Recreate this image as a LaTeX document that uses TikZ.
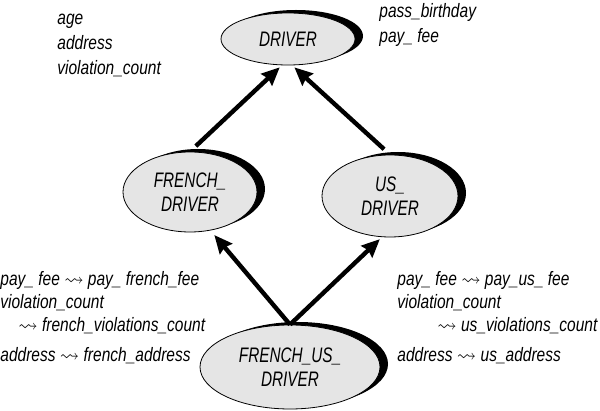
\documentclass[tikz,border=0pt]{standalone}
\usepackage{amssymb}
\usepackage{fontspec}
\setmainfont{Liberation Sans}[FakeStretch=0.8]
\newfontfamily\classfont{Liberation Sans}[FakeStretch=0.73]
\usetikzlibrary{shapes.geometric,arrows.meta}
\def\lt{$\leadsto$}

\begin{document}
\begin{tikzpicture}[x=0.5pt,y=-0.5pt,
  font=\fontsize{9.7}{12}\selectfont\itshape,
  class/.style={ellipse,draw,line width=0.4pt,fill=black!10,inner sep=0pt,align=center,
    font=\classfont\fontsize{10.5}{12}\selectfont\itshape,
    preaction={fill=black,transform canvas={xshift=4pt,yshift=1.5pt}}},
  inh/.style={line width=2.2pt,shorten <=4pt,shorten >=1.5pt,
    -{Stealth[length=9pt,width=8pt,inset=1pt]}},
  attr/.style={anchor=base west,inner sep=0pt}]
\useasboundingbox (0,0) rectangle (600,411);

\node[class,minimum width=67pt,minimum height=26pt] (D) at (288,39) {DRIVER};
\node[class,minimum width=67pt,minimum height=40pt] (FD) at (190,192) {FRENCH\_\\DRIVER};
\node[class,minimum width=68pt,minimum height=41pt] (UD) at (390,196) {US\_\\DRIVER};
\node[class,minimum width=90pt,minimum height=42pt] (FUD) at (290,367) {FRENCH\_US\_\\DRIVER};

\draw[inh] (FD.north) -- (D.-103);
\draw[inh] (UD.north) -- (D.-81);
\draw[inh,shorten <=0pt,shorten >=3pt] (FUD.north) -- (FD.-62);
\draw[inh,shorten <=0pt] (FUD.north) -- (UD.-101);

% features
\foreach \t [count=\i] in {age,address,violation\_count}
  \node[attr] (a\i) at (57,25*\i) {\t};
\foreach \t [count=\i] in {pass\_birthday,pay\_ fee}
  \node[attr] (r\i) at (379,-7+25*\i) {\t};

% renamings
\node[attr] (f1) at (0,286) {pay\_ fee \lt{} pay\_ french\_fee};
\node[attr] (f2) at (0,309) {violation\_count};
\node[attr] (f3) at (18,332) {\lt{} french\_violations\_count};
\node[attr] (f4) at (0,362) {address \lt{} french\_address};

\node[attr] (u1) at (397,286) {pay\_ fee \lt{} pay\_us\_ fee};
\node[attr] (u2) at (397,309) {violation\_count};
\node[attr] (u3) at (437,332) {\lt{} us\_violations\_count};
\node[attr] (u4) at (397,362) {address \lt{} us\_address};
\end{tikzpicture}
\end{document}
